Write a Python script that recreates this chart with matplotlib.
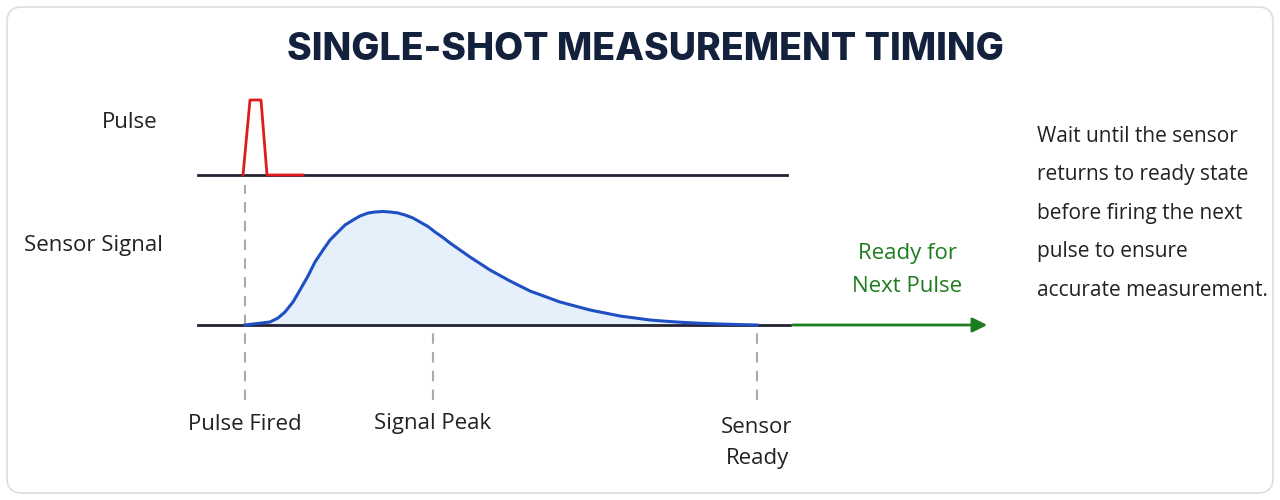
import matplotlib
matplotlib.use("Agg")
import matplotlib.pyplot as plt
from matplotlib.patches import FancyBboxPatch

# Data (time in arbitrary units, signal amplitude in arbitrary units)
signal_t = [0.0, 0.25, 0.33, 0.40, 0.48, 0.55, 0.63, 0.70, 0.78, 0.85, 0.93, 1.00, 1.08, 1.15,
            1.23, 1.30, 1.38, 1.45, 1.53, 1.60, 1.68, 1.75, 1.83, 1.90, 1.98,
            2.05, 2.15, 2.25, 2.35, 2.45, 2.55, 2.65, 2.75, 2.85, 3.00, 3.15, 3.30, 3.45,
            3.60, 3.75, 3.90, 4.05, 4.20, 4.35, 4.55, 4.75, 4.95, 5.12]
signal_v = [0.0, 0.03, 0.07, 0.13, 0.23, 0.35, 0.49, 0.63, 0.75, 0.85, 0.93, 1.00, 1.05, 1.09,
            1.12, 1.13, 1.135, 1.13, 1.12, 1.10, 1.07, 1.03, 0.985, 0.93, 0.875,
            0.82, 0.75, 0.68, 0.615, 0.55, 0.495, 0.44, 0.39, 0.34, 0.285, 0.23, 0.19, 0.15,
            0.12, 0.09, 0.07, 0.05, 0.038, 0.028, 0.017, 0.01, 0.004, 0.0]
pulse_t = [-0.02, 0.05, 0.16, 0.22, 0.58]
pulse_v = [0.0, 0.75, 0.75, 0.0, 0.0]
event_names = ["Pulse Fired", "Signal Peak", "Sensor\nReady"]
event_t = [0.0, 1.88, 5.12]

PULSE_BASE = 3.25
SIG_BASE = 1.75

plt.rcParams['font.family'] = ['Open Sans', 'DejaVu Sans']
fig = plt.figure(figsize=(12.8, 5.0), dpi=100)
ax = fig.add_axes([0, 0, 1, 1])
ax.set_xlim(-2.45, 10.35)
ax.set_ylim(0, 5)
ax.axis('off')

ax.add_patch(FancyBboxPatch((-2.38, 0.07), 12.66, 4.86, boxstyle="round,pad=0,rounding_size=0.15",
                            fc='white', ec='#dddddd', lw=1.2, zorder=0))

ax.text(4.0, 4.5, "SINGLE-SHOT MEASUREMENT TIMING", ha='center', va='center',
        fontsize=27, fontweight='heavy', color='#14213d', family=['Inter', 'DejaVu Sans'])

# event markers
tops = [PULSE_BASE - 0.1, SIG_BASE - 0.05, SIG_BASE - 0.05]
for name, t, top in zip(event_names, event_t, tops):
    ax.plot([t, t], [1.0, top], color='#aaaaaa', lw=1.5, ls=(0, (5, 4)), zorder=1)
    if "\n" in name:
        ax.text(t, 0.57, name, ha='center', va='center', fontsize=16, color='#222222', linespacing=1.6)
    else:
        ax.text(t, 0.76, name, ha='center', va='center', fontsize=16, color='#222222')

# baselines
ax.plot([-0.47, 5.42], [PULSE_BASE, PULSE_BASE], color='#222233', lw=2, zorder=2)
ax.plot([-0.47, 5.45], [SIG_BASE, SIG_BASE], color='#222233', lw=2, zorder=2)

# pulse
ax.plot(pulse_t, [PULSE_BASE + v for v in pulse_v], color='#e01b1b', lw=2, zorder=3)

# signal
sy = [SIG_BASE + v for v in signal_v]
ax.fill_between(signal_t, SIG_BASE, sy, color='#e6f0fa', zorder=1.5)
ax.plot(signal_t, sy, color='#1f4fc4', lw=2.2, zorder=3)

# green arrow
ax.annotate("", xy=(7.45, SIG_BASE), xytext=(5.45, SIG_BASE),
            arrowprops=dict(arrowstyle='-|>', color='#1e7d1e', lw=2, mutation_scale=22))
ax.text(6.62, 2.3, "Ready for\nNext Pulse", ha='center', va='center', fontsize=16,
        color='#1e7d1e', linespacing=1.75)

ax.text(-1.15, 3.77, "Pulse", ha='center', va='center', fontsize=16, color='#222222')
ax.text(-1.52, 2.54, "Sensor Signal", ha='center', va='center', fontsize=16, color='#222222')

note = ["Wait until the sensor", "returns to ready state", "before firing the next",
        "pulse to ensure", "accurate measurement."]
for i, line in enumerate(note):
    ax.text(7.92, 3.64 - i * 0.385, line, ha='left', va='center', fontsize=15, color='#222222')

fig.savefig("out.png", dpi=100)
